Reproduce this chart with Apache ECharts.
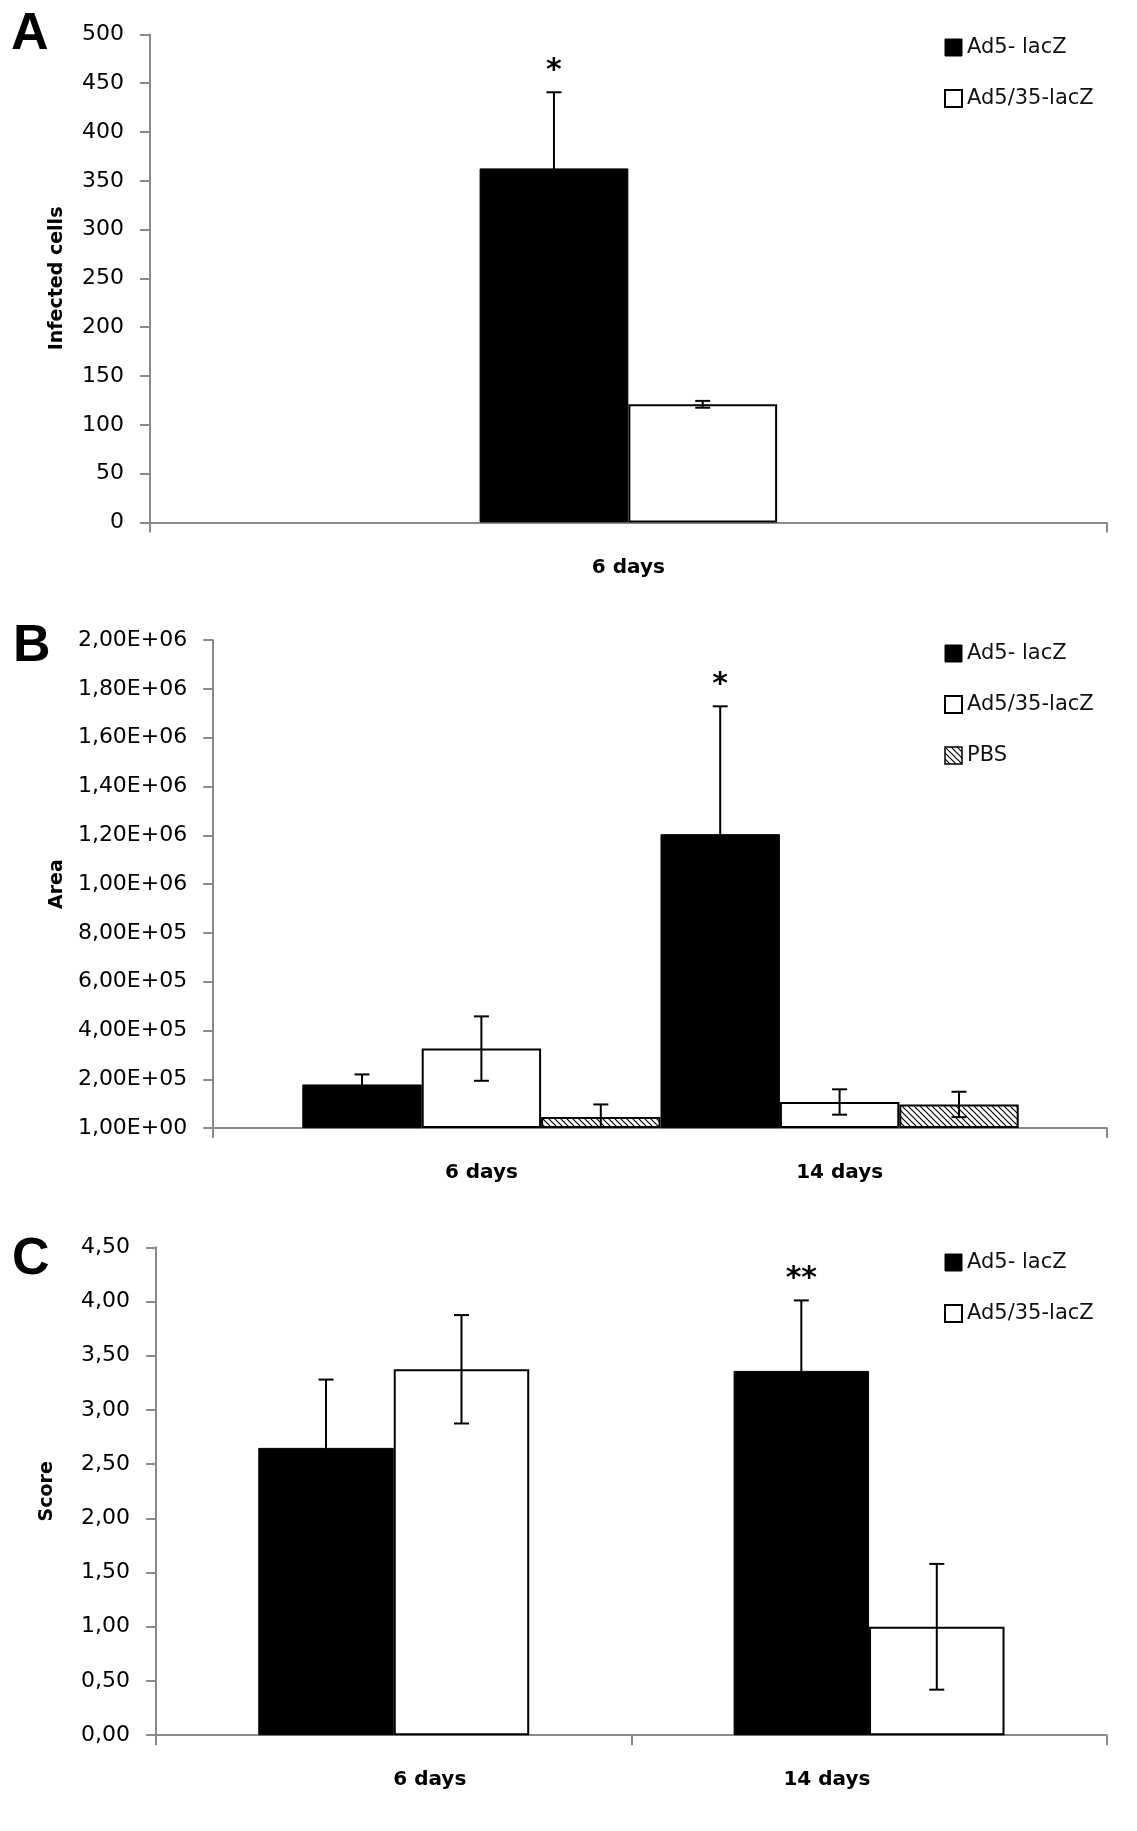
<!DOCTYPE html>
<html><head><meta charset="utf-8">
<script src="https://cdn.jsdelivr.net/npm/echarts@6/dist/echarts.min.js"></script>
<style>html,body{margin:0;padding:0;background:#fff}#c{width:1137px;height:1831px}</style>
</head><body><div id="c"></div>
<script>
// ---------- Panel A ----------
const catsA = ['6 days'];
const ad5A = [362.7];
const ad5ErrA = [78];
const ad535A = [121];
const ad535ErrA = [3.5];
const starsA = ['*'];
const yTicksA = ['0','50','100','150','200','250','300','350','400','450','500'];

// ---------- Panel B ----------
const catsB = ['6 days', '14 days'];
const ad5B = [179000, 1205000];
const ad5ErrB = [41000, 524000];
const ad535B = [326000, 107000];
const ad535ErrB = [132000, 52000];
const pbsB = [45000, 97000];
const pbsErrB = [52000, 52000];
const starsB = ['', '*'];
const yTicksB = ['1,00E+00','2,00E+05','4,00E+05','6,00E+05','8,00E+05','1,00E+06','1,20E+06','1,40E+06','1,60E+06','1,80E+06','2,00E+06'];

// ---------- Panel C ----------
const catsC = ['6 days', '14 days'];
const ad5C = [2.65, 3.36];
const ad5ErrC = [0.63, 0.65];
const ad535C = [3.375, 1.0];
const ad535ErrC = [0.50, 0.58];
const starsC = ['', '**'];
const yTicksC = ['0,00','0,50','1,00','1,50','2,00','2,50','3,00','3,50','4,00','4,50'];

const NAME1 = 'Ad5- lacZ', NAME2 = 'Ad5/35-lacZ', NAME3 = 'PBS';
const FONT = '"DejaVu Sans", Verdana, sans-serif';
const AXC = '#8a8a8a';

function hatch() {
  const s = 6;
  const c = document.createElement('canvas'); c.width = s; c.height = s;
  const g = c.getContext('2d');
  g.fillStyle = '#fff'; g.fillRect(0, 0, s, s);
  g.strokeStyle = '#000'; g.lineWidth = 1.2;
  g.beginPath();
  g.moveTo(-s, 0); g.lineTo(s, 2 * s);
  g.moveTo(0, 0); g.lineTo(s, s);
  g.moveTo(0, -s); g.lineTo(2 * s, s);
  g.stroke();
  return c;
}
const HATCH = { image: hatch(), repeat: 'repeat' };

function errSeries(xi, yi, means, errs, idx, n, gap, stars) {
  return {
    type: 'custom', xAxisIndex: xi, yAxisIndex: yi, z: 10, silent: true,
    data: means.map((m, i) => [i, m, errs[i]]),
    renderItem(params, api) {
      const ci = api.value(0), m = api.value(1), e = api.value(2);
      const band = api.size([1, 0])[0];
      const bw = band * (1 - gap) / n;
      const x = api.coord([ci, m])[0] + (idx - (n - 1) / 2) * bw;
      const yt = api.coord([ci, m + e])[1];
      const lo = Math.max(m - e, 0);
      const yb = api.coord([ci, lo])[1];
      const cap = 7.5;
      const ls = { stroke: '#000', lineWidth: 2 };
      const ch = [
        { type: 'line', shape: { x1: x, y1: yt, x2: x, y2: yb }, style: ls },
        { type: 'line', shape: { x1: x - cap, y1: yt, x2: x + cap, y2: yt }, style: ls }
      ];
      if (m - e > 0) ch.push({ type: 'line', shape: { x1: x - cap, y1: yb, x2: x + cap, y2: yb }, style: ls });
      const s = stars[params.dataIndex];
      if (s) ch.push({ type: 'text', style: { text: s, x: x, y: yt - 6, align: 'center', verticalAlign: 'bottom', textAlign: 'center', textVerticalAlign: 'bottom', font: 'bold 30px ' + FONT, fill: '#000' } });
      return { type: 'group', children: ch };
    }
  };
}

const gapA = 0.689, gapC = 0.43;

function yAxisCfg(grid, min, max, interval, ticks, name, nameGap) {
  return {
    type: 'value', gridIndex: grid, min: min, max: max, interval: interval,
    name: name, nameLocation: 'middle', nameRotate: 90, nameGap: nameGap,
    nameTextStyle: { fontFamily: FONT, fontWeight: 'bold', fontSize: 19, color: '#000' },
    axisLine: { show: true, lineStyle: { color: AXC, width: 2 } },
    axisTick: { show: true, length: 10, lineStyle: { color: AXC, width: 2 } },
    axisLabel: { margin: 26, fontFamily: FONT, fontSize: 22, color: '#000', formatter: (v, i) => ticks[i] },
    splitLine: { show: false }
  };
}
const xLabel = { margin: 35, fontFamily: FONT, fontWeight: 'bold', fontSize: 20, color: '#000' };
const xLine = { show: true, lineStyle: { color: AXC, width: 2 } };
const xTick = { show: true, length: 10, lineStyle: { color: AXC, width: 2 } };

const blackStyle = { color: '#000', borderColor: '#000', borderWidth: 1 };
const whiteStyle = { color: '#fff', borderColor: '#000', borderWidth: 2 };
const pbsStyle = { color: HATCH, borderColor: '#000', borderWidth: 2 };

function legendCfg(top, names) {
  const st = { [NAME1]: blackStyle, [NAME2]: whiteStyle, [NAME3]: { color: HATCH, borderColor: '#000', borderWidth: 1.5 } };
  return {
    orient: 'vertical', left: 944, top: top, padding: 0, itemWidth: 17, itemHeight: 17, itemGap: 30,
    icon: 'rect', selectedMode: false,
    textStyle: { fontFamily: FONT, fontSize: 21, color: '#111' },
    data: names.map(n => ({ name: n, icon: 'rect', itemStyle: st[n] }))
  };
}

const option = {
  backgroundColor: '#fff',
  animation: false,
  grid: [
    { left: 150, top: 34.4, width: 956.7, height: 488 },          // A
    { left: 213.2, top: 640.2, width: 893.5, height: 487.9 },     // B frame
    { left: 302.3, top: 640.2, width: 716.4, height: 487.9 },     // B bars
    { left: 156.1, top: 1247.3, width: 950.6, height: 487.9 },    // C
    { left: 231.2, top: 1247.3, width: 794.3, height: 487.9 }     // C category labels
  ],
  xAxis: [
    { type: 'category', gridIndex: 0, data: catsA, axisLine: xLine, axisTick: xTick, axisLabel: xLabel },
    { type: 'category', gridIndex: 1, data: [''], axisLine: xLine, axisTick: xTick, axisLabel: { show: false } },
    { type: 'category', gridIndex: 2, data: catsB, axisLine: { show: false }, axisTick: { show: false }, axisLabel: xLabel },
    { type: 'category', gridIndex: 3, data: catsC, axisLine: xLine, axisTick: xTick, axisLabel: { show: false } },
    { type: 'category', gridIndex: 4, data: catsC, axisLine: { show: false }, axisTick: { show: false }, axisLabel: xLabel }
  ],
  yAxis: [
    yAxisCfg(0, 0, 500, 50, yTicksA, 'Infected cells', 83),
    yAxisCfg(1, 0, 2000000, 200000, yTicksB, 'Area', 147),
    { type: 'value', gridIndex: 2, min: 0, max: 2000000, interval: 200000, show: false, splitLine: { show: false } },
    yAxisCfg(3, 0, 4.5, 0.5, yTicksC, 'Score', 100),
    { type: 'value', gridIndex: 4, min: 0, max: 4.5, interval: 0.5, show: false, splitLine: { show: false } }
  ],
  legend: [
    legendCfg(37, [NAME1, NAME2]),
    legendCfg(643, [NAME1, NAME2, NAME3]),
    legendCfg(1252, [NAME1, NAME2])
  ],
  graphic: [
    { type: 'text', left: 11, top: 9, style: { text: 'A', font: 'bold 52px "Liberation Sans", Arial, sans-serif', fill: '#000' } },
    { type: 'text', left: 13, top: 621, style: { text: 'B', font: 'bold 52px "Liberation Sans", Arial, sans-serif', fill: '#000' } },
    { type: 'text', left: 12, top: 1234, style: { text: 'C', font: 'bold 52px "Liberation Sans", Arial, sans-serif', fill: '#000' } }
  ],
  series: [
    // A
    { type: 'bar', name: NAME1, xAxisIndex: 0, yAxisIndex: 0, data: ad5A, barGap: '0%', barCategoryGap: (gapA * 100) + '%', itemStyle: blackStyle },
    { type: 'bar', name: NAME2, xAxisIndex: 0, yAxisIndex: 0, data: ad535A, barGap: '0%', barCategoryGap: (gapA * 100) + '%', itemStyle: whiteStyle },
    errSeries(0, 0, ad5A, ad5ErrA, 0, 2, gapA, starsA),
    errSeries(0, 0, ad535A, ad535ErrA, 1, 2, gapA, ['']),
    // B
    { type: 'bar', name: NAME1, xAxisIndex: 2, yAxisIndex: 2, data: ad5B, barGap: '0%', barCategoryGap: '0%', itemStyle: blackStyle },
    { type: 'bar', name: NAME2, xAxisIndex: 2, yAxisIndex: 2, data: ad535B, barGap: '0%', barCategoryGap: '0%', itemStyle: whiteStyle },
    { type: 'bar', name: NAME3, xAxisIndex: 2, yAxisIndex: 2, data: pbsB, barGap: '0%', barCategoryGap: '0%', itemStyle: pbsStyle },
    errSeries(2, 2, ad5B, ad5ErrB, 0, 3, 0, starsB),
    errSeries(2, 2, ad535B, ad535ErrB, 1, 3, 0, ['', '']),
    errSeries(2, 2, pbsB, pbsErrB, 2, 3, 0, ['', '']),
    // C
    { type: 'bar', name: NAME1, xAxisIndex: 3, yAxisIndex: 3, data: ad5C, barGap: '0%', barCategoryGap: (gapC * 100) + '%', itemStyle: blackStyle },
    { type: 'bar', name: NAME2, xAxisIndex: 3, yAxisIndex: 3, data: ad535C, barGap: '0%', barCategoryGap: (gapC * 100) + '%', itemStyle: whiteStyle },
    errSeries(3, 3, ad5C, ad5ErrC, 0, 2, gapC, starsC),
    errSeries(3, 3, ad535C, ad535ErrC, 1, 2, gapC, ['', ''])
  ]
};

const chart = echarts.init(document.getElementById('c'), null, { renderer: 'canvas' });
chart.setOption(option);
</script>
</body></html>
